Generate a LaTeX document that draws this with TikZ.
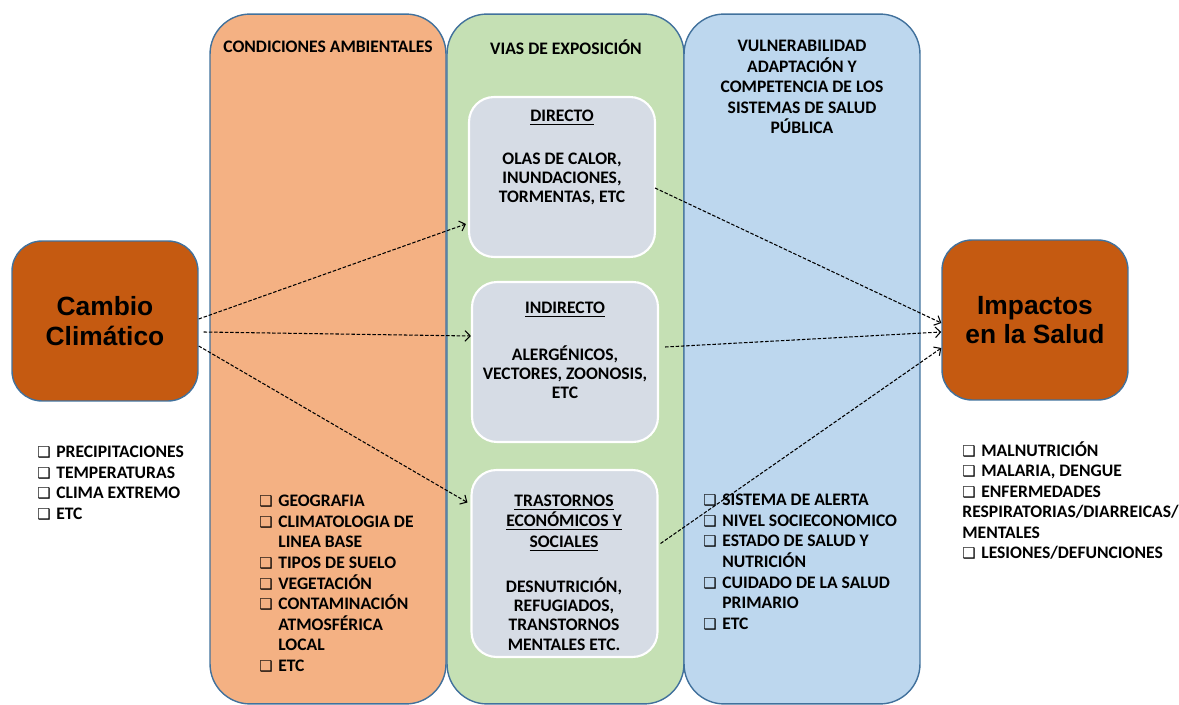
\documentclass[tikz,border=0pt]{standalone}
\usepackage{fontspec}
\setmainfont{Carlito}
\newfontfamily\arialfont{Liberation Sans}
\newfontfamily\symfont{DejaVu Sans}
\usepackage{xcolor}
\usetikzlibrary{calc,positioning,arrows.meta}

\definecolor{naranjaosc}{HTML}{C55A11}
\definecolor{naranjacl}{HTML}{F4B183}
\definecolor{verdecl}{HTML}{C5E0B4}
\definecolor{azulcl}{HTML}{BDD7EE}
\definecolor{grisazul}{HTML}{D6DCE5}
\definecolor{borde}{HTML}{41719C}

\newcommand{\casilla}{\makebox[10.8pt][l]{\symfont\fontsize{8.5}{8.5}\selectfont ❑}}
\newcommand{\sangria}{\hspace*{10.8pt}}

\begin{document}
\begin{tikzpicture}[x=0.02cm,y=-0.02cm,
	columna/.style={draw=borde,line width=0.8pt,rounded corners=0.8cm,minimum width=4.72cm,minimum height=13.8cm},
	bloque/.style={fill=naranjaosc,draw=borde,line width=0.8pt,rounded corners=0.6cm,minimum width=3.72cm,minimum height=3.2cm,align=center,font=\arialfont\bfseries\fontsize{15}{16.6}\selectfont},
	via/.style={fill=grisazul,draw=white,line width=1.2pt,rounded corners=0.5cm,minimum width=3.72cm,minimum height=3.2cm},
	texto/.style={font=\bfseries\fontsize{10}{11.7}\selectfont,align=center,inner sep=0pt},
	cuerpo/.style={font=\bfseries\fontsize{10}{10.9}\selectfont,align=center,inner sep=0pt},
	lista/.style={font=\bfseries\fontsize{10}{11.7}\selectfont,align=left,anchor=north west,inner sep=0pt},
	flecha/.style={-{Straight Barb[length=3pt,width=6pt]},dash pattern=on 2pt off 1pt,line width=0.6pt}]
	\useasboundingbox (0,0) rectangle (1179,705);

	% columnas
	\node[columna,fill=naranjacl] (condiciones) at (328,359) {};
	\node[columna,fill=verdecl,minimum width=4.74cm] (vias) at (565.5,359) {};
	\node[columna,fill=azulcl] (vulnerab) at (802,359) {};
	\node[texto] (tcond) at (328,47) {CONDICIONES AMBIENTALES};
	\node[texto] (tvias) at (566,47) {VIAS DE EXPOSICIÓN};
	\node[texto] (tvuln) at (802,87) {VULNERABILIDAD\\ADAPTACIÓN Y\\COMPETENCIA DE LOS\\SISTEMAS DE SALUD\\PÚBLICA};

	% vias de exposicion
	\node[via] (directo) at (562,177) {};
	\node[via] (indirecto) at (565,362) {};
	\node[via,minimum height=3.74cm] (trastornos) at (564.5,563.5) {};
	\node[texto] (tdirecto) at (562,118) {\underline{DIRECTO}};
	\node[cuerpo] (cdirecto) at (562,179) {OLAS DE CALOR,\\INUNDACIONES,\\TORMENTAS, ETC};
	\node[texto] (tindirecto) at (565,310) {\underline{INDIRECTO}};
	\node[cuerpo] (cindirecto) at (565,372) {ALERGÉNICOS,\\VECTORES, ZOONOSIS,\\ETC};
	\node[texto] (ttrast) at (564,523) {\underline{TRASTORNOS}\\\underline{ECONÓMICOS Y}\\\underline{SOCIALES}};
	\node[cuerpo] (ctrast) at (564,614) {DESNUTRICIÓN,\\REFUGIADOS,\\TRANSTORNOS\\MENTALES ETC.};

	% extremos
	\node[bloque] (cambio) at (105,321) {Cambio\\Climático};
	\node[bloque] (impactos) at (1035,320) {Impactos\\en la Salud};

	% listas
	\node[lista] (lclima) at (37,446) {\casilla PRECIPITACIONES\\\casilla TEMPERATURAS\\\casilla CLIMA EXTREMO\\\casilla ETC};
	\node[lista] (lcond) at (259,495) {\casilla GEOGRAFIA\\\casilla CLIMATOLOGIA DE\\\sangria LINEA BASE\\\casilla TIPOS DE SUELO\\\casilla VEGETACIÓN\\\casilla CONTAMINACIÓN\\\sangria ATMOSFÉRICA\\\sangria LOCAL\\\casilla ETC};
	\node[lista] (lvuln) at (703,494) {\casilla SISTEMA DE ALERTA\\\casilla NIVEL SOCIECONOMICO\\\casilla ESTADO DE SALUD Y\\\sangria NUTRICIÓN\\\casilla CUIDADO DE LA SALUD\\\sangria PRIMARIO\\\casilla ETC};
	\node[lista] (limpactos) at (962,441) {\casilla MALNUTRICIÓN\\\casilla MALARIA, DENGUE\\\casilla ENFERMEDADES\\RESPIRATORIAS/DIARREICAS/\\MENTALES\\\casilla LESIONES/DEFUNCIONES};

	% flechas
	\draw[flecha] ($(cambio.east)+(0,-2)$) -- ($(directo.west)+(-2,47)$);
	\draw[flecha] ($(cambio.east)+(5,11)$) -- ($(indirecto.west)+(0,-26)$);
	\draw[flecha] ($(cambio.east)+(0,25)$) -- ($(trastornos.west)+(-3,-61)$);
	\draw[flecha] ($(directo.east)+(-1,11)$) -- ($(impactos.west)+(0,3)$);
	\draw[flecha] ($(indirecto.east)+(6,-15)$) -- ($(impactos.west)+(0,12)$);
	\draw[flecha] ($(trastornos.east)+(2,-20)$) -- ($(impactos.west)+(0,28)$);
\end{tikzpicture}
\end{document}
